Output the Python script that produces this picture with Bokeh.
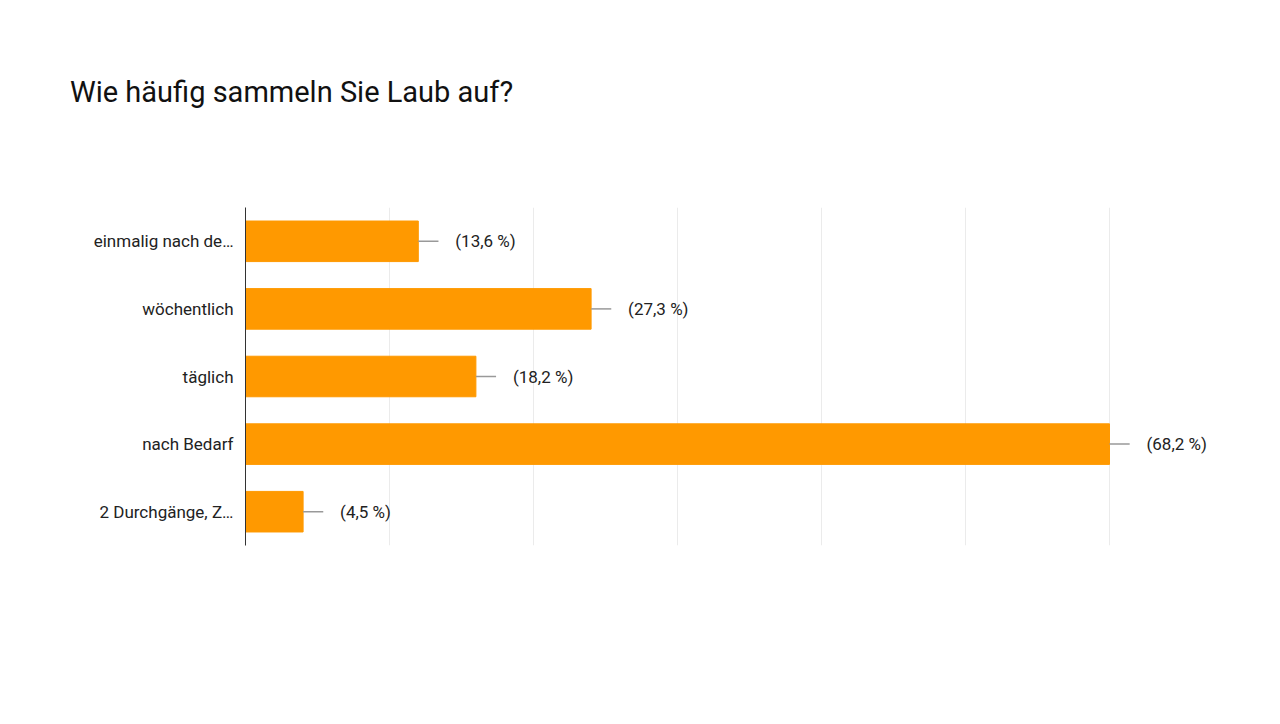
from bokeh.plotting import figure
from bokeh.models import FixedTicker, ColumnDataSource, Div
from bokeh.layouts import column
from bokeh.embed import file_html
from bokeh.resources import INLINE
from bokeh.core.properties import value

categories = ["einmalig nach de…", "wöchentlich", "täglich", "nach Bedarf", "2 Durchgänge, Z…"]
counts = [3, 6, 4, 15, 1]
labels = ["(13,6 %)", "(27,3 %)", "(18,2 %)", "(68,2 %)", "(4,5 %)"]
ticks = [0, 2.5, 5, 7.5, 10, 12.5, 15]
axis_max = 15

src = ColumnDataSource(dict(cat=categories, v=counts, lab=labels,
                            v2=[c + 0.35 for c in counts]))

title = Div(text="Wie häufig sammeln Sie Laub auf?", width=1272, height=120, margin=0,
            styles={"font-family": "Roboto", "font-size": "29px", "color": "#111111",
                    "padding-top": "72px", "padding-left": "70px", "box-sizing": "border-box"})

p = figure(width=1272, height=596, output_backend="svg", toolbar_location=None,
           y_range=list(reversed(categories)), x_range=(0, axis_max * 1017 / 864),
           min_border_left=245, min_border_right=10, min_border_top=87, min_border_bottom=171,
           margin=0)
p.hbar(y="cat", right="v", left=0, height=0.6, color="#ff9900", source=src)
p.segment(x0="v", x1="v2", y0="cat", y1="cat", line_color="#999999", line_width=1.5, source=src)
p.text(x="v", y="cat", text="lab", x_offset=37, text_baseline="middle",
       text_font=value("Roboto"), text_font_size="17px", text_color="#222222", source=src)

p.xaxis.visible = False
p.xgrid.ticker = FixedTicker(ticks=ticks)
p.xgrid.grid_line_color = "#ebebeb"
p.ygrid.grid_line_color = None
p.outline_line_color = None
p.yaxis.axis_line_color = "#333333"
p.yaxis.major_tick_line_color = None
p.yaxis.minor_tick_line_color = None
p.yaxis.major_label_text_font = "Roboto"
p.yaxis.major_label_text_font_size = "17px"
p.yaxis.major_label_text_color = "#222222"
p.yaxis.major_label_standoff = 6

open("out.html", "w").write(file_html(column(title, p, spacing=0), INLINE))
